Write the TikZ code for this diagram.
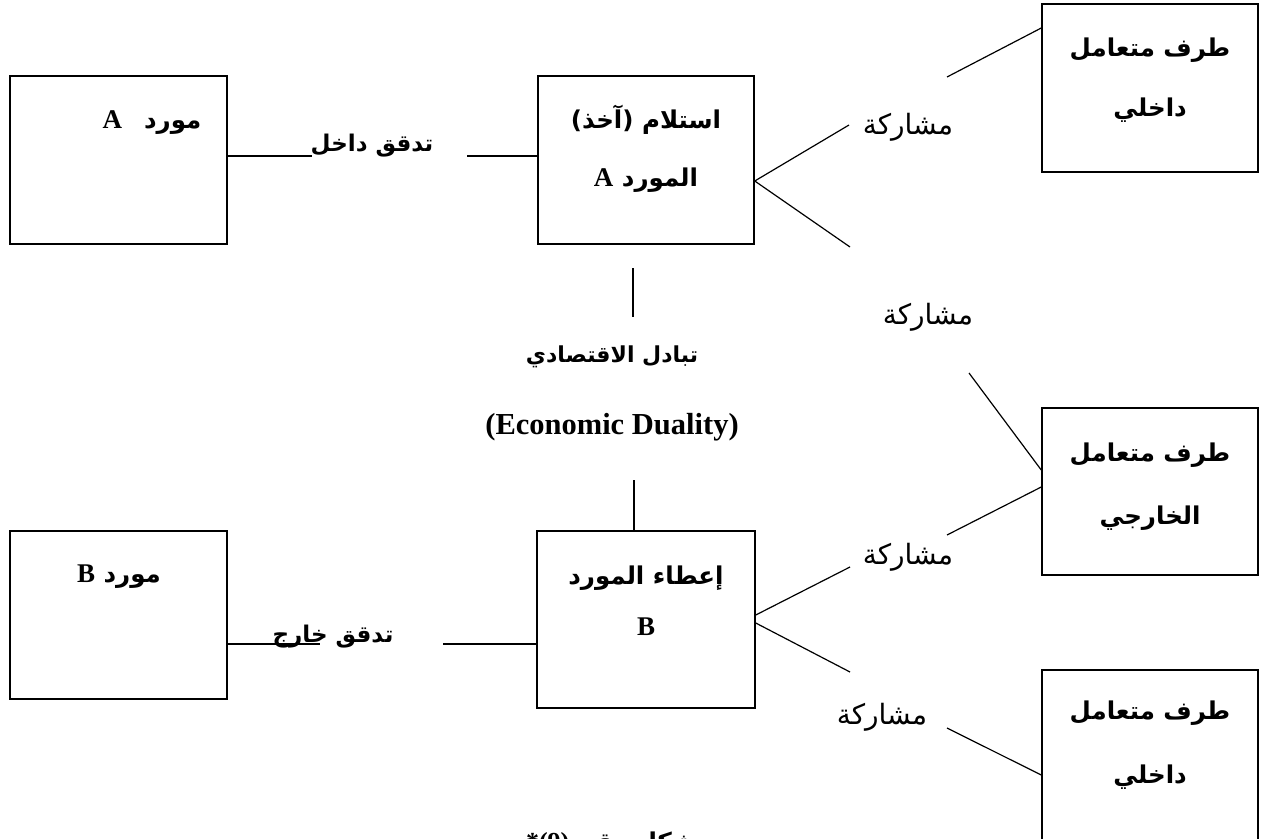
\documentclass[tikz,border=0pt]{standalone}
\usepackage{fontspec}
\TeXXeTstate=1
\newfontfamily\arabicfont[Script=Arabic]{DejaVu Sans}
\newfontfamily\latinserif{Liberation Serif}
\begin{document}
\begin{tikzpicture}[x=1pt,y=-1pt,
  box/.style={draw, line width=1.5pt, inner sep=0pt},
  conn/.style={line width=1.2pt},
  btxt/.style={font=\arabicfont\bfseries\fontsize{24.5}{29}\selectfont, inner sep=0pt},
  ftxt/.style={font=\arabicfont\bfseries\fontsize{23}{27}\selectfont, inner sep=0pt},
  rtxt/.style={font=\arabicfont\fontsize{28}{32}\selectfont, inner sep=0pt},
  ltxt/.style={font=\latinserif\bfseries\fontsize{27}{31}\selectfont, inner sep=0pt},
  etxt/.style={font=\latinserif\bfseries\fontsize{30.5}{35}\selectfont, inner sep=0pt}]
\useasboundingbox (0,0) rectangle (1263,838);
\clip (0,0) rectangle (1263,838);
% boxes
\node[box, minimum width=217pt, minimum height=168pt] (supA) at (118.5,160) {};
\node[box, minimum width=216pt, minimum height=168pt] (recvA) at (646,160) {};
\node[box, minimum width=216pt, minimum height=168pt] (intTop) at (1150,88) {};
\node[box, minimum width=216pt, minimum height=167pt] (ext) at (1150,491.5) {};
\node[box, minimum width=218pt, minimum height=177pt] (giveB) at (646,619.5) {};
\node[box, minimum width=217pt, minimum height=168pt] (supB) at (118.5,615) {};
\node[box, minimum width=216pt, minimum height=200pt] (intBot) at (1150,770) {};
% box texts
\node[btxt] (supAt) at (152,123) {\beginR مورد\hspace{0.9em}{\latinserif\fontsize{27}{31}\selectfont A}\endR};
\node[btxt] (recvAt1) at (646,120) {\beginR استلام (آخذ)\endR};
\node[btxt] (recvAt2) at (646,180) {\beginR المورد {\latinserif\fontsize{27}{31}\selectfont A}\endR};
\node[btxt] (intTopt1) at (1150,50) {\beginR طرف متعامل\endR};
\node[btxt] (intTopt2) at (1150,110) {\beginR داخلي\endR};
\node[btxt] (extt1) at (1150,455) {\beginR طرف متعامل\endR};
\node[btxt] (extt2) at (1150,518) {\beginR الخارجي\endR};
\node[btxt] (giveBt1) at (646,578) {\beginR إعطاء المورد\endR};
\node[ltxt] (giveBt2) at (646,627) {B};
\node[btxt] (supBt) at (119,577) {\beginR مورد {\latinserif\fontsize{27}{31}\selectfont B}\endR};
\node[btxt] (intBott1) at (1150,713) {\beginR طرف متعامل\endR};
\node[btxt] (intBott2) at (1150,777) {\beginR داخلي\endR};
% labels
\node[ftxt] (lIn) at (372,146) {\beginR تدقق داخل\endR};
\node[ftxt] (lOut) at (333,637) {\beginR تدقق خارج\endR};
\node[rtxt] (p1) at (908,127) {\beginR مشاركة\endR};
\node[rtxt] (p2) at (928,317) {\beginR مشاركة\endR};
\node[rtxt] (p3) at (908,557) {\beginR مشاركة\endR};
\node[rtxt] (p4) at (882,717) {\beginR مشاركة\endR};
\node[ftxt, font=\arabicfont\bfseries\fontsize{22}{26}\selectfont] (eco1) at (612,357) {\beginR تبادل الاقتصادي\endR};
\node[etxt] (eco2) at (612,427) {(Economic Duality)};
\node[btxt, anchor=north] (cap) at (611,832) {\beginR شكل رقم \beginL{\latinserif\fontsize{26}{30}\selectfont *(9)}\endL\endR};
% free ends
\coordinate (cIn1) at (312,156);
\coordinate (cIn2) at (467,156);
\coordinate (c1) at (849,125);
\coordinate (c2) at (947,77);
\coordinate (c3) at (850,247);
\coordinate (c4) at (969,373);
\coordinate (c5) at (633,268);
\coordinate (c6) at (633,317);
\coordinate (c7) at (634,480);
\coordinate (c8) at (320,644);
\coordinate (c9) at (443,644);
\coordinate (c10) at (850,567);
\coordinate (c11) at (947,535);
\coordinate (c12) at (850,672);
\coordinate (c13) at (947,728);
% connectors
\draw[conn] ([yshift=4pt]supA.east) -- (cIn1);
\draw[conn] (cIn2) -- ([yshift=4pt]recvA.west);
\draw[conn] ([yshift=-21pt]recvA.east) -- (c1);
\draw[conn] (c2) -- ([yshift=60pt]intTop.west);
\draw[conn] ([yshift=-21pt]recvA.east) -- (c3);
\draw[conn] (c4) -- ([yshift=21.5pt]ext.west);
\draw[conn] (c5) -- (c6);
\draw[conn] (c7) -- ([xshift=-12pt]giveB.north);
\draw[conn] ([yshift=-29pt]supB.east) -- (c8);
\draw[conn] (c9) -- ([yshift=-24.5pt]giveB.west);
\draw[conn] ([yshift=4.5pt]giveB.east) -- (c10);
\draw[conn] (c11) -- ([yshift=4.5pt]ext.west);
\draw[conn] ([yshift=-3.5pt]giveB.east) -- (c12);
\draw[conn] (c13) -- ([yshift=-5pt]intBot.west);
\end{tikzpicture}
\end{document}
